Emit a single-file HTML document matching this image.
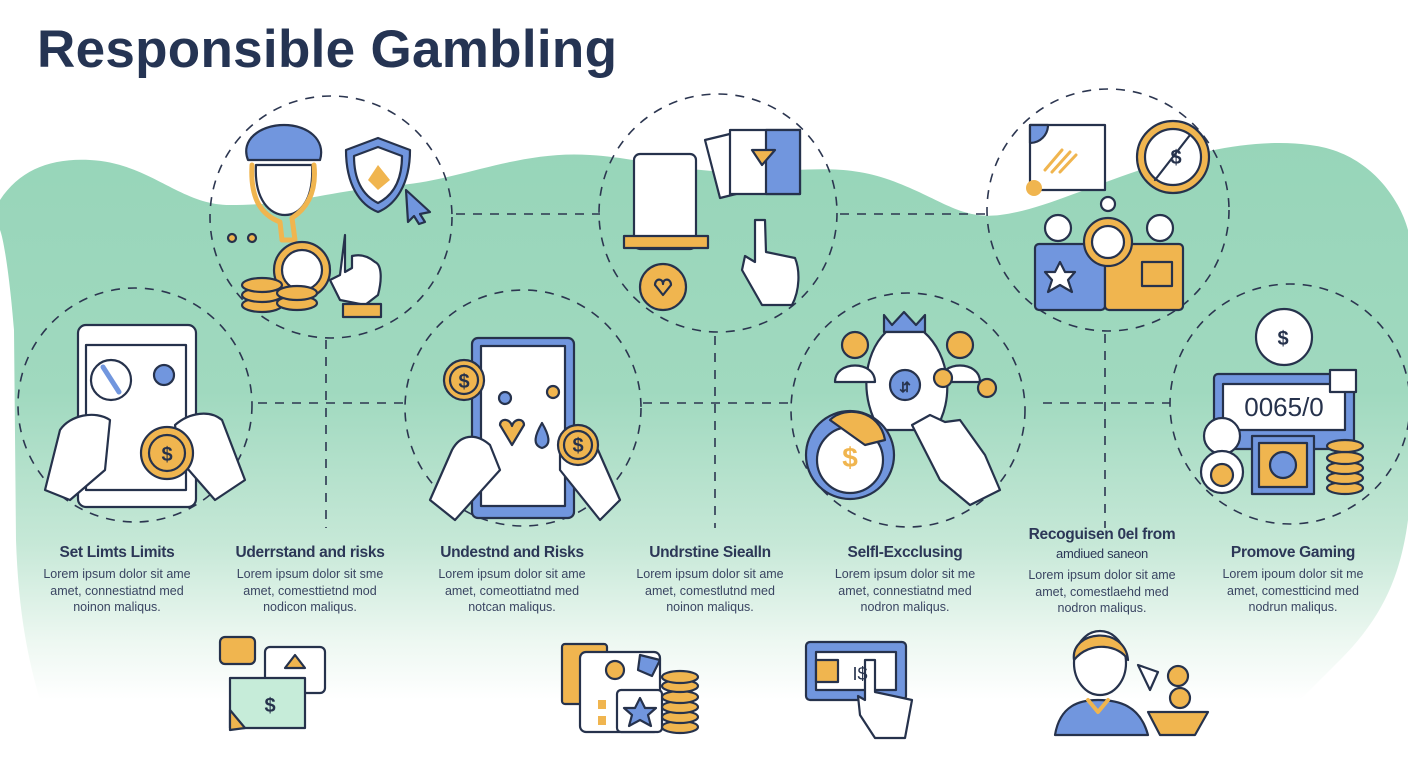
<!DOCTYPE html>
<html><head><meta charset="utf-8"><style>
html,body{margin:0;padding:0;background:#fff;}
body{width:1408px;height:768px;overflow:hidden;position:relative;font-family:"Liberation Sans",sans-serif;}
svg{position:absolute;left:0;top:0;}
.t{position:absolute;font-weight:bold;color:#253453;}
.col{position:absolute;width:164px;text-align:center;color:#2c3757;}
.col h3{margin:0;font-size:15.5px;font-weight:bold;line-height:18px;letter-spacing:-0.3px;white-space:nowrap}
.col p{margin:4px 0 0;font-size:12.5px;line-height:16.5px;color:#3a4562}
</style></head><body>
<svg width="1408" height="768" viewBox="0 0 1408 768">
<defs>
<linearGradient id="gg" x1="0" y1="140" x2="0" y2="700" gradientUnits="userSpaceOnUse">
<stop offset="0" stop-color="#97d5b9"/>
<stop offset="0.45" stop-color="#a0d9bf"/>
<stop offset="0.72" stop-color="#c6e8d7"/>
<stop offset="0.9" stop-color="#eef8f2"/>
<stop offset="1" stop-color="#ffffff"/>
</linearGradient>
</defs>
<path d="M0,200 C20,170 50,158 90,160 C150,163 180,205 230,205 C300,205 330,190 400,185 C460,180 520,150 590,155 C640,158 680,172 740,172 C800,172 840,162 890,180 C940,198 960,220 1000,215 C1040,210 1080,190 1140,170 C1200,150 1260,138 1310,145 C1370,152 1400,200 1408,230 L1408,520 C1400,580 1380,620 1340,660 L1300,700 L40,700 C25,650 18,600 16,540 L14,330 C10,280 4,240 0,230 Z" fill="url(#gg)"/>
<g fill="none" stroke="#2c3650" stroke-width="1.6" stroke-dasharray="9 8">
<circle cx="331" cy="217" r="121"/>
<circle cx="718" cy="213" r="119"/>
<circle cx="1108" cy="210" r="121"/>
<circle cx="135" cy="405" r="117"/>
<circle cx="523" cy="408" r="118"/>
<circle cx="908" cy="410" r="117"/>
<circle cx="1290" cy="404" r="120"/>
<line x1="456" y1="214" x2="600" y2="214"/>
<line x1="840" y1="214" x2="988" y2="214"/>
<line x1="258" y1="403" x2="404" y2="403"/>
<line x1="643" y1="403" x2="790" y2="403"/>
<line x1="1043" y1="403" x2="1170" y2="403"/>
<line x1="326" y1="340" x2="326" y2="528"/>
<line x1="715" y1="336" x2="715" y2="528"/>
<line x1="1105" y1="334" x2="1105" y2="528"/>
</g>
<g stroke="#26324c" stroke-width="2.2" stroke-linejoin="round" stroke-linecap="round">
<path d="M248,160 C240,140 260,125 284,125 C308,125 326,140 320,160 Z" fill="#7196de"/>
<path d="M256,165 C254,200 270,215 285,215 C300,215 314,200 312,165 Z" fill="#fff"/>
<path d="M252,165 C250,200 262,215 280,222 L282,240 L295,240 L292,218 C312,205 316,185 314,165" fill="none" stroke="#f0b54f" stroke-width="5"/>
<path d="M346,150 L378,138 L410,150 C410,185 395,205 378,212 C360,205 346,185 346,150Z" fill="#7196de"/>
<path d="M354,156 L378,147 L402,156 C402,182 392,196 378,203 C364,196 354,182 354,156Z" fill="#fff"/>
<path d="M378,165 L390,180 L378,190 L368,180Z" fill="#f0b54f" stroke="none"/>
<path d="M406,190 L430,212 L420,214 L425,222 L419,224 L414,216 L408,222Z" fill="#7196de"/>
<circle cx="302" cy="270" r="28" fill="#f0b54f"/>
<circle cx="302" cy="270" r="20" fill="#fff"/>
<g fill="#f0b54f"><ellipse cx="262" cy="305" rx="20" ry="7"/><ellipse cx="262" cy="295" rx="20" ry="7"/><ellipse cx="262" cy="285" rx="20" ry="7"/><ellipse cx="297" cy="303" rx="20" ry="7"/><ellipse cx="297" cy="293" rx="20" ry="7"/></g>
<path d="M345,235 L345,272 L352,268 L352,256 C360,254 368,256 375,262 C382,265 382,280 378,295 L365,305 L340,300 L330,280 L340,275 Z" fill="#fff"/>
<rect x="343" y="304" width="38" height="13" fill="#f0b54f"/>
<circle cx="232" cy="238" r="4" fill="#f0b54f"/><circle cx="252" cy="238" r="4" fill="#f0b54f"/>
<rect x="634" y="154" width="62" height="95" rx="6" fill="#fff"/>
<rect x="624" y="236" width="84" height="12" fill="#f0b54f"/>
<path d="M705,140 L738,132 L752,190 L720,198Z" fill="#fff"/>
<rect x="730" y="130" width="70" height="64" fill="#fff"/>
<rect x="766" y="130" width="34" height="64" fill="#7196de"/>
<path d="M752,150 L775,150 L762,165Z" fill="#f0b54f"/>
<circle cx="663" cy="287" r="23" fill="#f0b54f"/>
<path d="M655,285 C655,278 663,278 663,284 C663,278 671,278 671,285 L663,295Z" fill="none"/>
<path d="M755,220 L755,262 L745,256 L742,270 L762,305 L792,305 C800,290 800,270 795,258 L766,252 L765,220Z" fill="#fff"/>
<rect x="1030" y="125" width="75" height="65" fill="#fff"/>
<path d="M1030,125 L1048,125 C1048,135 1040,143 1030,143Z" fill="#7196de"/>
<g stroke="#f0b54f" stroke-width="3"><line x1="1045" y1="170" x2="1062" y2="150"/><line x1="1052" y1="172" x2="1070" y2="152"/><line x1="1060" y1="172" x2="1076" y2="155"/></g>
<circle cx="1034" cy="188" r="8" fill="#f0b54f" stroke="none"/>
<circle cx="1173" cy="157" r="36" fill="#f0b54f"/>
<circle cx="1173" cy="157" r="28" fill="#fff"/>
<line x1="1155" y1="180" x2="1190" y2="135"/>
<rect x="1035" y="244" width="70" height="66" rx="4" fill="#7196de"/>
<rect x="1105" y="244" width="78" height="66" rx="4" fill="#f0b54f"/>
<path d="M1060,262 L1065,272 L1075,272 L1068,280 L1072,292 L1060,285 L1048,292 L1052,280 L1045,272 L1055,272Z" fill="#fff"/>
<rect x="1142" y="262" width="30" height="24" fill="none"/>
<circle cx="1108" cy="242" r="24" fill="#f0b54f"/>
<circle cx="1108" cy="242" r="16" fill="#fff"/>
<circle cx="1058" cy="228" r="13" fill="#fff"/><circle cx="1160" cy="228" r="13" fill="#fff"/>
<circle cx="1108" cy="204" r="7" fill="#fff"/>
<rect x="78" y="325" width="118" height="182" rx="8" fill="#fff"/>
<rect x="86" y="345" width="100" height="145" fill="#fff"/>
<circle cx="111" cy="380" r="20" fill="#fff"/>
<line x1="103" y1="367" x2="119" y2="392" stroke="#7196de" stroke-width="5"/>
<circle cx="164" cy="375" r="10" fill="#7196de"/>
<path d="M45,490 L60,430 C70,415 95,410 110,420 L105,470 L70,500Z" fill="#fff"/>
<path d="M245,480 L222,420 C210,410 190,412 175,425 L180,460 L215,500Z" fill="#fff"/>
<circle cx="167" cy="453" r="26" fill="#f0b54f"/>
<circle cx="167" cy="453" r="18" fill="none"/>
<rect x="472" y="338" width="102" height="180" rx="6" fill="#7196de"/>
<rect x="481" y="346" width="84" height="160" fill="#fff"/>
<circle cx="464" cy="380" r="20" fill="#f0b54f"/>
<circle cx="464" cy="380" r="14" fill="none"/>
<path d="M500,425 C500,418 510,418 512,426 C514,418 524,418 524,425 L512,445Z" fill="#f0b54f"/>
<path d="M542,423 C535,435 532,445 542,448 C552,445 549,435 542,423Z" fill="#7196de"/>
<circle cx="505" cy="398" r="6" fill="#7196de"/><circle cx="553" cy="392" r="6" fill="#f0b54f"/>
<path d="M430,500 L452,450 C460,435 475,432 490,445 L500,470 L455,520Z" fill="#fff"/>
<path d="M620,500 L598,450 C590,435 575,432 560,445 L560,470 L600,520Z" fill="#fff"/>
<circle cx="578" cy="445" r="20" fill="#f0b54f"/>
<circle cx="578" cy="445" r="14" fill="none"/>
<path d="M884,315 L892,325 L904,312 L916,325 L925,315 L925,332 L884,332Z" fill="#7196de"/>
<path d="M886,332 L924,332 C950,355 955,400 935,430 L880,430 C860,400 862,355 886,332Z" fill="#fff"/>
<circle cx="905" cy="385" r="15" fill="#7196de"/>
<circle cx="855" cy="345" r="13" fill="#f0b54f"/><path d="M835,382 C835,360 875,360 875,382Z" fill="#fff"/>
<circle cx="960" cy="345" r="13" fill="#f0b54f"/><path d="M940,382 C940,360 980,360 980,382Z" fill="#fff"/>
<circle cx="943" cy="378" r="9" fill="#f0b54f"/><circle cx="987" cy="388" r="9" fill="#f0b54f"/>
<circle cx="850" cy="455" r="44" fill="#7196de"/>
<circle cx="850" cy="460" r="33" fill="#fff"/>
<path d="M830,420 C845,405 880,410 885,440 L865,445Z" fill="#f0b54f"/>
<path d="M912,425 L940,480 L970,505 L1000,490 L985,455 L960,420 L945,422 L930,415Z" fill="#fff"/>
<circle cx="1284" cy="337" r="28" fill="#fff"/>
<rect x="1214" y="374" width="140" height="75" rx="4" fill="#7196de"/>
<rect x="1223" y="384" width="122" height="46" fill="#fff"/>
<rect x="1330" y="370" width="26" height="22" fill="#fff"/>
<circle cx="1222" cy="436" r="18" fill="#fff"/>
<circle cx="1222" cy="472" r="21" fill="#fff"/>
<circle cx="1222" cy="475" r="11" fill="#f0b54f"/>
<rect x="1252" y="436" width="62" height="58" fill="#7196de"/>
<rect x="1259" y="443" width="48" height="44" fill="#f0b54f"/>
<circle cx="1283" cy="465" r="13" fill="#7196de"/>
<g fill="#f0b54f"><ellipse cx="1345" cy="488" rx="18" ry="6"/><ellipse cx="1345" cy="478" rx="18" ry="6"/><ellipse cx="1345" cy="468" rx="18" ry="6"/><ellipse cx="1345" cy="458" rx="18" ry="6"/><ellipse cx="1345" cy="446" rx="18" ry="6"/></g>
<rect x="220" y="637" width="35" height="27" rx="5" fill="#f0b54f"/>
<rect x="265" y="647" width="60" height="46" rx="5" fill="#fff"/>
<path d="M295,655 L305,668 L285,668Z" fill="#f0b54f"/>
<rect x="230" y="678" width="75" height="50" fill="#c6ecd9"/>
<path d="M230,710 L245,728 L230,730Z" fill="#f0b54f"/>
<rect x="562" y="644" width="45" height="60" rx="3" fill="#f0b54f"/>
<rect x="580" y="652" width="80" height="80" rx="6" fill="#fff"/>
<path d="M640,655 L660,660 L652,676 L638,670Z" fill="#7196de"/>
<circle cx="615" cy="670" r="9" fill="#f0b54f"/>
<rect x="617" y="690" width="45" height="42" rx="4" fill="#fff"/>
<path d="M640,698 L645,708 L656,708 L648,715 L651,726 L640,720 L629,726 L632,715 L624,708 L635,708Z" fill="#7196de"/>
<rect x="598" y="700" width="8" height="9" fill="#f0b54f" stroke="none"/><rect x="598" y="716" width="8" height="9" fill="#f0b54f" stroke="none"/>
<g fill="#f0b54f"><ellipse cx="680" cy="727" rx="18" ry="6"/><ellipse cx="680" cy="717" rx="18" ry="6"/><ellipse cx="680" cy="707" rx="18" ry="6"/><ellipse cx="680" cy="697" rx="18" ry="6"/><ellipse cx="680" cy="686" rx="18" ry="6"/><ellipse cx="680" cy="677" rx="18" ry="6"/></g>
<rect x="806" y="642" width="100" height="58" rx="4" fill="#7196de"/>
<rect x="816" y="652" width="80" height="38" fill="#fff"/>
<rect x="816" y="660" width="22" height="22" fill="#f0b54f"/>
<path d="M865,660 L865,700 L858,696 L860,715 L875,738 L905,738 L912,700 L875,692 L875,660Z" fill="#fff"/>
<path d="M1055,735 C1060,705 1080,700 1098,700 C1118,700 1140,705 1148,735Z" fill="#7196de"/>
<path d="M1088,700 L1098,712 L1108,700" fill="none" stroke="#f0b54f" stroke-width="4"/>
<ellipse cx="1100" cy="663" rx="26" ry="32" fill="#fff"/>
<path d="M1074,660 C1070,630 1125,625 1128,660 C1120,645 1090,640 1074,660Z" fill="#f0b54f"/>
<path d="M1148,712 L1208,712 L1195,735 L1160,735Z" fill="#f0b54f"/>
<circle cx="1178" cy="676" r="10" fill="#f0b54f"/><circle cx="1180" cy="698" r="10" fill="#f0b54f"/>
<path d="M1138,665 L1158,672 L1150,690Z" fill="#fff"/>
</g>
<g font-family="Liberation Sans,sans-serif" font-size="20" fill="#26324c" text-anchor="middle" font-weight="bold">
<text x="1176" y="164">$</text><text x="1283" y="345">$</text><text x="167" y="461">$</text><text x="464" y="388">$</text><text x="578" y="452">$</text><text x="850" y="467" fill="#f0b54f" font-size="28">$</text><text x="905" y="392" font-size="14">⇵</text><text x="270" y="712">$</text><text x="860" y="680" font-size="18" font-weight="normal">I$</text>
<text x="1284" y="416" font-size="26" font-weight="normal">0065/0</text>
</g>
</svg>
<div class="t" style="left:37px;top:19px;font-size:53px;letter-spacing:0.3px">Responsible Gambling</div>
<div class="col" style="left:35px;top:544px"><h3>Set Limts Limits</h3><p>Lorem ipsum dolor sit ame amet, connestiatnd med noinon maliqus.</p></div>
<div class="col" style="left:228px;top:544px"><h3>Uderrstand and risks</h3><p>Lorem ipsum dolor sit sme amet, comesttietnd mod nodicon maliqus.</p></div>
<div class="col" style="left:430px;top:544px"><h3>Undestnd and Risks</h3><p>Lorem ipsum dolor sit ame amet, comeottiatnd med notcan maliqus.</p></div>
<div class="col" style="left:628px;top:544px"><h3>Undrstine Siealln</h3><p>Lorem ipsum dolor sit ame amet, comestlutnd med noinon maliqus.</p></div>
<div class="col" style="left:823px;top:544px"><h3>Selfl-Excclusing</h3><p>Lorem ipsum dolor sit me amet, connestiatnd med nodron maliqus.</p></div>
<div class="col" style="left:1020px;top:526px"><h3>Recoguisen 0el from</h3><h3 style="font-size:13px;font-weight:normal;margin-top:1px">amdiued saneon</h3><p>Lorem ipsum dolor sit ame amet, comestlaehd med nodron maliqus.</p></div>
<div class="col" style="left:1211px;top:544px"><h3>Promove Gaming</h3><p>Lorem ipoum dolor sit me amet, comestticind med nodrun maliqus.</p></div>
</body></html>
